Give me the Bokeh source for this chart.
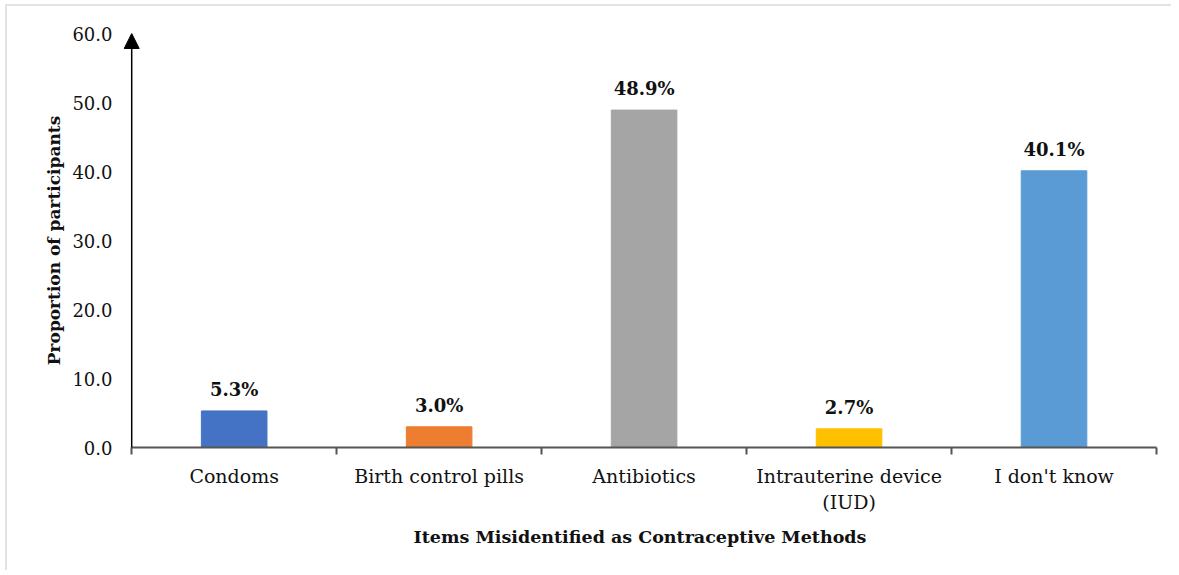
from bokeh.plotting import figure
from bokeh.models import (ColumnDataSource, FixedTicker, Range1d, Arrow, NormalHead,
                          LinearAxis, CustomJSTickFormatter)
from bokeh.core.properties import value
from bokeh.embed import file_html
from bokeh.resources import INLINE

categories = ["Condoms", "Birth control pills", "Antibiotics",
              "Intrauterine device\n(IUD)", "I don't know"]
values = [5.3, 3.0, 48.9, 2.7, 40.1]
labels = ["5.3%", "3.0%", "48.9%", "2.7%", "40.1%"]
colors = ["#4472C4", "#ED7D31", "#A5A5A5", "#FFC000", "#5B9BD5"]
y_ticks = [0, 10, 20, 30, 40, 50, 60]

FONT = "DejaVu Serif"
n = len(categories)
xs = [i + 0.5 for i in range(n)]
src = ColumnDataSource(dict(x=xs, top=values, label=labels, color=colors))

p = figure(width=1166, height=566, output_backend="svg", toolbar_location=None,
           x_range=Range1d(-0.04, n), y_range=Range1d(0, 60),
           min_border_left=116, min_border_right=17, min_border_top=27,
           min_border_bottom=125, x_axis_location=None, y_axis_location=None)
p.grid.visible = False
p.outline_line_color = None
p.styles = {"border-top": "2px solid #e3e3e3", "border-left": "2px solid #e3e3e3",
            "margin": "4px 0 0 5px"}

p.vbar(x="x", top="top", width=0.32, bottom=0, color="color", source=src)
p.text(x="x", y="top", text="label", source=src, text_align="center",
       text_baseline="bottom", y_offset=-11, text_font=value(FONT),
       text_font_style="bold", text_font_size="18px", text_color="#111111")

# y axis line drawn as an arrow at x = 0
p.add_layout(Arrow(end=NormalHead(size=15, fill_color="black", line_color="black"),
                   x_start=0, y_start=-1, x_end=0, y_end=60,
                   line_color="black", line_width=1.5))

# x axis: category labels at centers, tick marks at boundaries
xt = FixedTicker(ticks=xs, minor_ticks=list(range(n + 1)))
xa = LinearAxis(ticker=xt, bounds=(0, n))
xa.major_label_overrides = {x: c for x, c in zip(xs, categories)}
xa.major_tick_out = 0
xa.major_tick_in = 0
xa.minor_tick_out = 7
xa.minor_tick_in = 0
xa.minor_tick_line_color = "#555555"
xa.minor_tick_line_width = 2
xa.axis_line_color = "#555555"
xa.axis_line_width = 2
xa.major_label_standoff = 10
xa.major_label_text_font = FONT
xa.major_label_text_font_size = "19px"
xa.major_label_text_color = "#111111"
xa.axis_label = "Items Misidentified as Contraceptive Methods"
xa.axis_label_text_font = FONT
xa.axis_label_text_font_style = "bold"
xa.axis_label_text_font_size = "17.5px"
xa.axis_label_text_color = "#111111"
xa.axis_label_standoff = 11
p.add_layout(xa, "below")

ya = LinearAxis(ticker=FixedTicker(ticks=y_ticks))
ya.formatter = CustomJSTickFormatter(code="return tick.toFixed(1);")
ya.major_tick_out = 0
ya.major_tick_in = 0
ya.minor_tick_out = 0
ya.minor_tick_in = 0
ya.axis_line_color = None
ya.major_label_standoff = 11
ya.major_label_text_font = FONT
ya.major_label_text_font_size = "18px"
ya.major_label_text_color = "#111111"
ya.axis_label = "Proportion of participants"
ya.axis_label_text_font = FONT
ya.axis_label_text_font_style = "bold"
ya.axis_label_text_font_size = "17px"
ya.axis_label_text_color = "#111111"
ya.axis_label_standoff = 5
p.add_layout(ya, "left")

open("out.html", "w").write(file_html(p, INLINE))
